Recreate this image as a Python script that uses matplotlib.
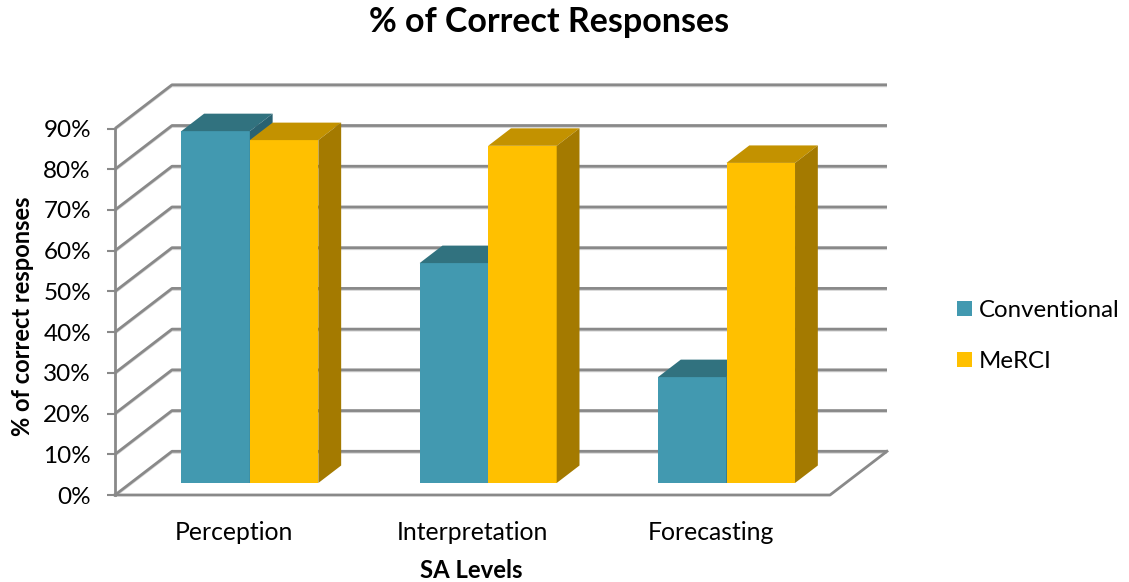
import matplotlib
matplotlib.use("Agg")
import matplotlib.pyplot as plt
from matplotlib.patches import Polygon, Patch
from matplotlib.transforms import offset_copy

categories = ["Perception", "Interpretation", "Forecasting"]
series_names = ["Conventional", "MeRCI"]
conventional = [86.4, 54.0, 26.0]
merci = [84.2, 82.8, 78.6]
y_ticks = [0, 10, 20, 30, 40, 50, 60, 70, 80, 90]
y_tick_labels = ["0%", "10%", "20%", "30%", "40%", "50%", "60%", "70%", "80%", "90%"]

FONT = "Lato"
plt.rcParams["font.family"] = [FONT, "DejaVu Sans"]

W, H = 1129, 582
fig = plt.figure(figsize=(W / 100, H / 100), dpi=100)
# front plane of the 3D box
L, R, B, T = 115, 830, 495, 128.5
ax = fig.add_axes([L / W, (H - B) / H, (R - L) / W, (B - T) / H])
n = len(categories)
ax.set_xlim(0, n)
ax.set_ylim(0, 90)

# depth vector (data units)
DX = 57 / ((R - L) / n)
DY = 43.7 / ((B - T) / 90)

grid_c = "#898989"
shadow_c = "#d4d4d4"
gl = 2.0
shadow_tr = offset_copy(ax.transData, fig=fig, x=0, y=-1.6, units="dots")
# gridlines on side + back wall
for v in y_ticks:
    xs, ys = [0, DX, n + DX], [v, v + DY, v + DY]
    ax.plot(xs, ys, color=shadow_c, lw=1.2, clip_on=False,
            solid_capstyle="butt", zorder=0.9, transform=shadow_tr)
    ax.plot(xs, ys, color=grid_c, lw=gl, clip_on=False,
            solid_capstyle="butt", zorder=1)
# floor
ax.plot([0, n, n + DX], [0, 0, DY], color=grid_c, lw=gl, clip_on=False, zorder=1)

# bars
f0, d = 0.275, 0.40
bw = 0.2875
colors = {
    "Conventional": ("#4299B0", "#31727F", "#2A6271"),
    "MeRCI": ("#FFC000", "#C39200", "#A47A00"),
}


def draw_bar(x0, v, cols):
    front, top, side = cols
    sx, sy = f0 * DX, f0 * DY
    ex, ey = d * DX, d * DY
    xa, xb = x0 + sx, x0 + bw + sx
    ya, yb = sy, v + sy
    ax.add_patch(Polygon([(xa, ya), (xb, ya), (xb, yb), (xa, yb)],
                         closed=True, fc=front, ec="none", clip_on=False, zorder=3))
    ax.add_patch(Polygon([(xa, yb), (xb, yb), (xb + ex, yb + ey), (xa + ex, yb + ey)],
                         closed=True, fc=top, ec="none", clip_on=False, zorder=3))
    ax.add_patch(Polygon([(xb, ya), (xb + ex, ya + ey), (xb + ex, yb + ey), (xb, yb)],
                         closed=True, fc=side, ec="none", clip_on=False, zorder=3))


for i in range(n):
    draw_bar(i + 0.5 - bw, conventional[i], colors["Conventional"])
    draw_bar(i + 0.5, merci[i], colors["MeRCI"])

# axes styling
for s in ["top", "right", "bottom"]:
    ax.spines[s].set_visible(False)
ax.spines["left"].set_color(grid_c)
ax.spines["left"].set_linewidth(gl)
ax.set_yticks(y_ticks)
ax.set_yticklabels(y_tick_labels, fontsize=17.5, color="#000000")
ax.tick_params(axis="y", length=5.8, width=1.5, color=grid_c, pad=11.5)
ax.set_xticks([i + 0.5 for i in range(n)])
ax.set_xticklabels(categories, fontsize=17.8)
ax.tick_params(axis="x", length=0, pad=19)

ax.set_ylabel("% of correct responses", fontsize=17, fontweight="bold")
ax.yaxis.set_label_coords(-0.130, 0.488)
ax.yaxis.label.set_va("center")
ax.set_xlabel("SA Levels", fontsize=17.2, fontweight="bold")
ax.xaxis.set_label_coords((471.5 - L) / (R - L), -0.207)
ax.xaxis.label.set_va("center")

fig.text(549 / W, 1 - 22 / H, "% of Correct Responses", fontsize=24.5,
         fontweight="bold", ha="center", va="center")

handles = [Patch(fc=colors[s][0], ec="none") for s in series_names]
fig.legend(handles, series_names, loc="center left",
           bbox_to_anchor=(947.5 / W, 1 - 336 / H), frameon=False,
           fontsize=17.3, handlelength=0.62, handleheight=0.62,
           handletextpad=0.3, labelspacing=1.25, borderaxespad=0)

fig.savefig("out.png", dpi=100)
